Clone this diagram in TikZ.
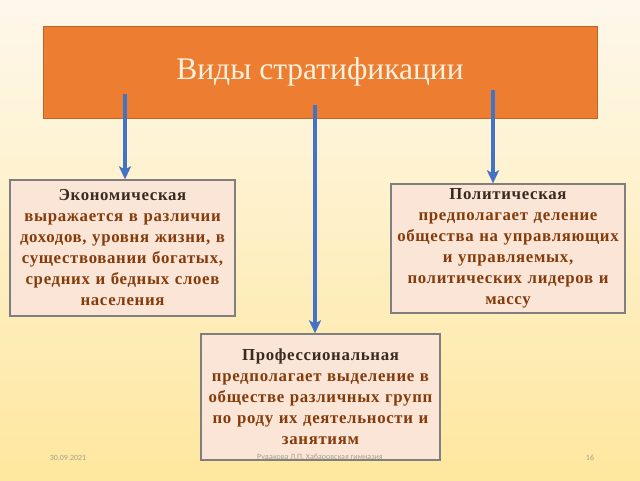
\documentclass[tikz,border=0pt]{standalone}
\usepackage{fontspec}
\setmainfont{Liberation Serif}
\newfontfamily\boxfont[LetterSpace=4]{Liberation Serif}
\newfontfamily\footfont{Carlito}
\usetikzlibrary{arrows.meta}
\definecolor{bgtop}{HTML}{FEF8EC}
\definecolor{bgbot}{HTML}{FEE79E}
\definecolor{orng}{HTML}{ED7D31}
\definecolor{orngedge}{HTML}{C0652A}
\definecolor{boxfill}{HTML}{FBE5D6}
\definecolor{boxedge}{HTML}{7F7F7F}
\definecolor{headc}{HTML}{3A2A22}
\definecolor{bodyc}{HTML}{843C0C}
\definecolor{arrc}{HTML}{4472C4}
\definecolor{titlec}{HTML}{FBF1DE}
\definecolor{footc}{HTML}{A6A08A}
\tikzset{
  infobox/.style={draw=boxedge, line width=1.3pt, fill=boxfill, inner sep=0pt,
    align=center, font=\boxfont\fontsize{16.8}{21}\selectfont\bfseries, text=bodyc},
  conn/.style={draw=arrc, line width=3.2pt, -{Stealth[length=13pt,width=12pt,inset=3pt]}},
  foot/.style={font=\footfont\fontsize{8}{9}\selectfont, text=footc, inner sep=0pt}
}
\begin{document}
\begin{tikzpicture}[x=1pt,y=-1pt]
\useasboundingbox (0,0) rectangle (640,480);
\shade[top color=bgtop, bottom color=bgbot] (0,0) rectangle (640,480);
\node[draw=orngedge, line width=0.8pt, fill=orng, minimum width=554pt, minimum height=92pt,
  inner sep=0pt, text=titlec, font=\fontsize{31.5}{34}\selectfont] (title) at (320,72) {Виды стратификации};
\node[infobox, minimum width=225pt, minimum height=136pt, text width=223pt] (econ) at (122.5,248)
  {\textcolor{headc}{Экономическая}\\выражается в различии\\доходов, уровня жизни, в\\существовании богатых,\\средних и бедных слоев\\населения};
\node[infobox, minimum width=234pt, minimum height=129pt, text width=232pt] (pol) at (508,248.5)
  {\textcolor{headc}{Политическая}\\предполагает деление\\общества на управляющих\\и управляемых,\\политических лидеров и\\массу};
\node[infobox, minimum width=239pt, minimum height=126pt, text width=237pt] (prof) at (320.5,397)
  {\textcolor{headc}{Профессиональная}\\предполагает выделение в\\обществе различных групп\\по роду их деятельности и\\занятиям};
\coordinate (s1) at (125,94);
\coordinate (s2) at (315,105);
\coordinate (s3) at (493,90);
\draw[conn] (s1) -- (s1 |- econ.north);
\draw[conn] (s2) -- (s2 |- prof.north);
\draw[conn] (s3) -- (s3 |- pol.north);
\node[foot] (date) at (68,458) {30.09.2021};
\node[foot] (auth) at (320,457) {Рудакова Л.П. Хабаровская гимназия};
\node[foot] (page) at (590,458) {16};
\end{tikzpicture}
\end{document}
